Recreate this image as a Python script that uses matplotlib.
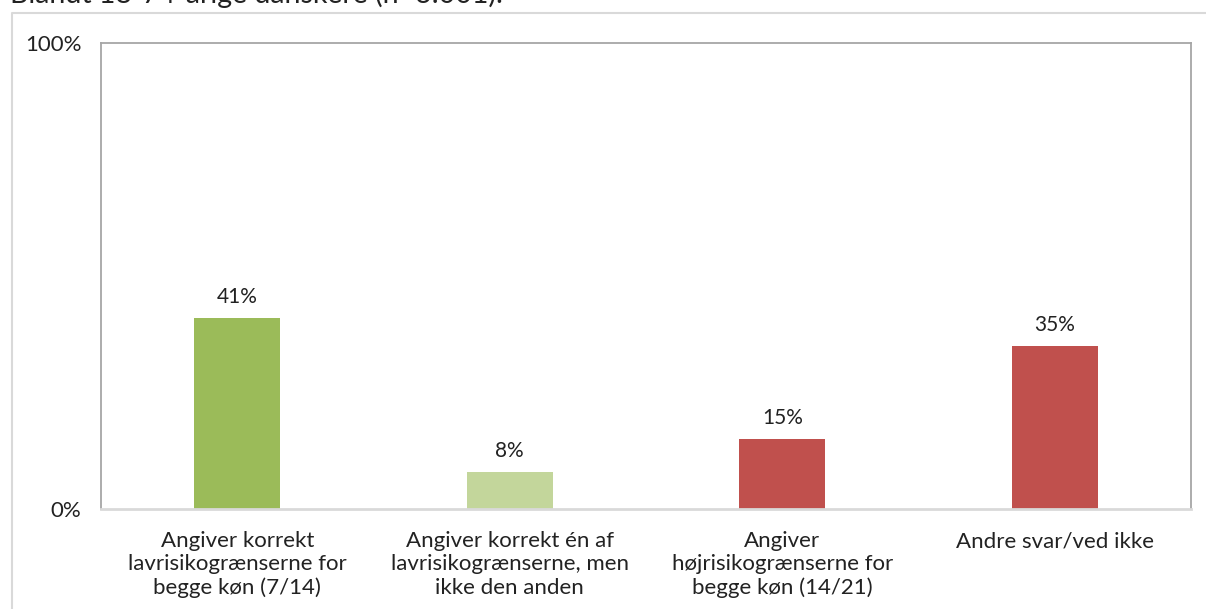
import matplotlib.pyplot as plt
from matplotlib.lines import Line2D

# ---------- DATA ----------
categories = [
    "Angiver korrekt\nlavrisikogrænserne for\nbegge køn (7/14)",
    "Angiver korrekt én af\nlavrisikogrænserne, men\nikke den anden",
    "Angiver\nhøjrisikogrænserne for\nbegge køn (14/21)",
    "Andre svar/ved ikke",
]
values = [41, 8, 15, 35]
bar_colors = ["#9BBB59", "#C3D69B", "#C0504D", "#C0504D"]
title = "Blandt 18-74-årige danskere (n=3.001)."

plt.rcParams["font.family"] = ["Lato", "DejaVu Sans"]

fig = plt.figure(figsize=(12.06, 6.09), dpi=100)
ax = fig.add_axes([101 / 1206, 100 / 609, 1090 / 1206, 466 / 609])

x = range(len(categories))
bars = ax.bar(x, values, width=0.316, color=bar_colors, zorder=2)

for bar, v in zip(bars, values):
    ax.annotate(f"{v}%", (bar.get_x() + bar.get_width() / 2, v),
                xytext=(0, 8), textcoords="offset points",
                ha="center", va="bottom", fontsize=15, color="#222222")

ax.set_xlim(-0.5, len(categories) - 0.5)
ax.set_ylim(0, 100)
ax.set_yticks([0, 100])
ax.set_yticklabels(["0%", "100%"], fontsize=16, color="#222222")
ax.set_xticks(list(x))
ax.set_xticklabels(categories, fontsize=16, color="#222222", linespacing=1.2)
ax.tick_params(axis="both", length=0)
ax.tick_params(axis="y", pad=14)
ax.tick_params(axis="x", pad=16)

for side in ["left", "top", "right"]:
    ax.spines[side].set_color("#a6a6a6")
    ax.spines[side].set_linewidth(1.3)
ax.spines["bottom"].set_color("#d9d9d9")
ax.spines["bottom"].set_linewidth(2)

# outer chart frame (only left and top edges are visible)
fx = 12 / 1206
fy = 1 - 13 / 609
fig.add_artist(Line2D([fx, fx, 1], [0, fy, fy], transform=fig.transFigure,
                      color="#d9d9d9", linewidth=1.5))

# title, cut off at the top edge
fig.text(10 / 1206, 1 - 3 / 609, title, fontsize=20.5, color="#222222",
         ha="left", va="baseline")

fig.savefig("out.png", dpi=100)
